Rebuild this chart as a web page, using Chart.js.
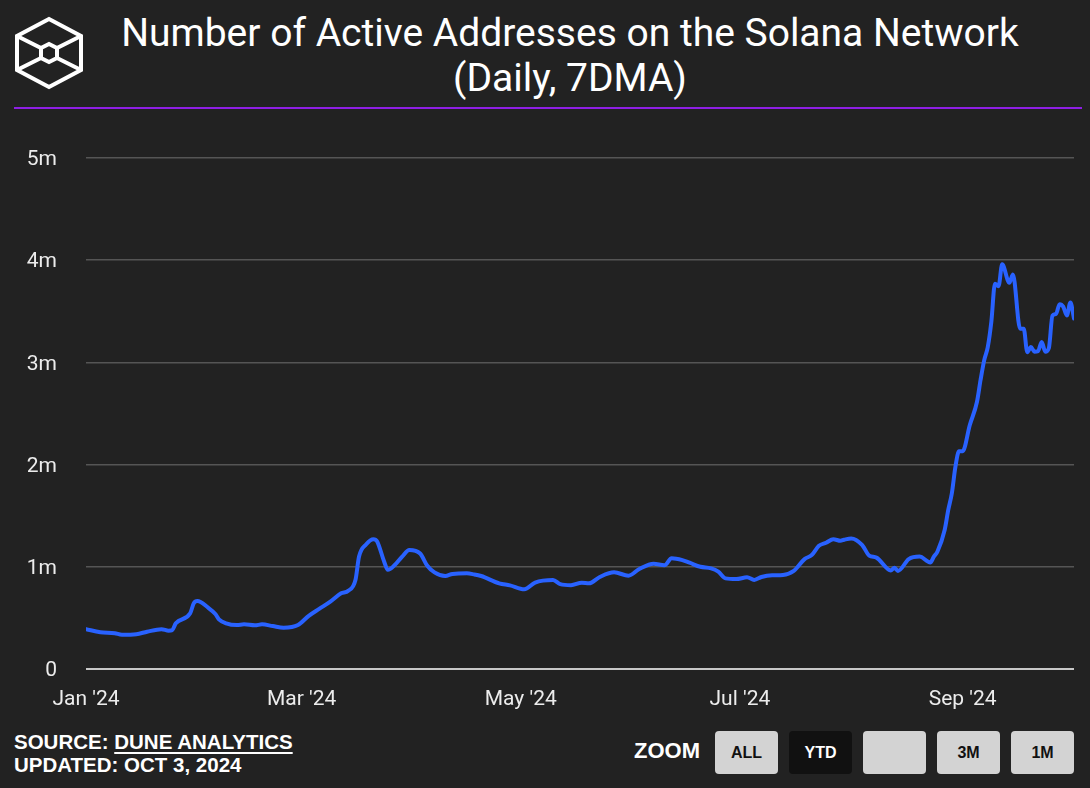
<!DOCTYPE html>
<html>
<head>
<meta charset="utf-8">
<script src="https://cdn.jsdelivr.net/npm/chart.js@4.4.1/dist/chart.umd.min.js"></script>
<style>
  html, body { margin:0; padding:0; background:#222222; }
  body { width:1090px; height:788px; position:relative; overflow:hidden; font-family: Roboto, "Liberation Sans", sans-serif; }
  #logo { position:absolute; left:12px; top:16px; width:74px; height:74px; }
  #title { position:absolute; top:11px; left:70px; width:1000px; text-align:center; color:#fff; font-family: Roboto, sans-serif; font-size:39px; line-height:45px; font-weight:400; }
  #rule { position:absolute; top:107px; left:14px; width:1068px; height:2px; background:#8e1fe4; }
  #wrap { position:absolute; top:110px; left:0; width:1090px; height:610px; }
  .foot { position:absolute; left:14px; color:#fff; font-family:"Liberation Sans", Arial, sans-serif; font-weight:700; font-size:20.5px; white-space:nowrap; }
  .foot u { text-decoration-thickness:2px; text-underline-offset:3px; }
  #zoomlbl { position:absolute; left:634px; top:738px; color:#fff; font-family:"Liberation Sans", Arial, sans-serif; font-weight:700; font-size:22px; }
  .btn { position:absolute; top:731px; width:63px; height:43px; border-radius:4px; background:#d3d3d3; color:#111; font-family:"Liberation Sans", Arial, sans-serif; font-weight:700; font-size:16px; display:flex; align-items:center; justify-content:center; }
  .btn.on { background:#111111; color:#fff; }
</style>
</head>
<body>
<svg id="logo" viewBox="0 0 74 74">
  <g fill="none" stroke="#fff" stroke-width="4" stroke-linejoin="miter">
    <path d="M37,3 L69,20 L69,54 L37,71 L5,54 L5,20 Z"/>
    <path d="M5,20 L29,32 L37,28 L45,32 L69,20"/>
    <path d="M29,32 L29,42 L37,46 L45,42 L45,32"/>
    <path d="M5,54 L29,42 M69,54 L45,42"/>
  </g>
</svg>
<div id="title">Number of Active Addresses on the Solana Network<br>(Daily, 7DMA)</div>
<div id="rule"></div>
<div id="wrap"><canvas id="c" width="1090" height="610"></canvas></div>
<div class="foot" style="top:730px;">SOURCE: <u>DUNE ANALYTICS</u></div>
<div class="foot" style="top:753px;">UPDATED: OCT 3, 2024</div>
<div id="zoomlbl">ZOOM</div>
<div class="btn" style="left:715px;">ALL</div>
<div class="btn on" style="left:789px;">YTD</div>
<div class="btn" style="left:863px;"></div>
<div class="btn" style="left:937px;">3M</div>
<div class="btn" style="left:1011px;">1M</div>
<script>
// ---- data (7-day moving average of daily active addresses) ----
const dates = [
  '2024-01-01','2024-01-05','2024-01-09','2024-01-11','2024-01-15','2024-01-18','2024-01-22','2024-01-24','2024-01-25','2024-01-26',
  '2024-01-30','2024-01-31','2024-02-01','2024-02-04','2024-02-06','2024-02-07','2024-02-09','2024-02-12','2024-02-14','2024-02-17',
  '2024-02-19','2024-02-22','2024-02-25','2024-02-29','2024-03-03','2024-03-06','2024-03-09','2024-03-12','2024-03-14','2024-03-16',
  '2024-03-17','2024-03-19','2024-03-21','2024-03-22','2024-03-24','2024-03-25','2024-03-27','2024-03-29','2024-03-31','2024-04-03',
  '2024-04-05','2024-04-07','2024-04-10','2024-04-12','2024-04-16','2024-04-18','2024-04-20','2024-04-25','2024-04-28','2024-05-02',
  '2024-05-05','2024-05-10','2024-05-12','2024-05-15','2024-05-18','2024-05-20','2024-05-23','2024-05-27','2024-05-31','2024-06-03',
  '2024-06-07','2024-06-10','2024-06-12','2024-06-15','2024-06-17','2024-06-20','2024-06-23','2024-06-25','2024-06-27','2024-06-30',
  '2024-07-03','2024-07-05','2024-07-07','2024-07-10','2024-07-13','2024-07-16','2024-07-19','2024-07-21','2024-07-23','2024-07-25',
  '2024-07-27','2024-07-29','2024-07-30','2024-08-01','2024-08-04','2024-08-06','2024-08-08','2024-08-12','2024-08-13','2024-08-14',
  '2024-08-17','2024-08-20','2024-08-23','2024-08-24','2024-08-25','2024-08-27','2024-08-28','2024-08-29','2024-08-30','2024-08-31',
  '2024-09-01','2024-09-03','2024-09-05','2024-09-06','2024-09-07','2024-09-08','2024-09-09','2024-09-10','2024-09-11','2024-09-12',
  '2024-09-14','2024-09-15','2024-09-17','2024-09-18','2024-09-19','2024-09-20','2024-09-21','2024-09-22','2024-09-23','2024-09-24',
  '2024-09-25','2024-09-26','2024-09-27','2024-09-28','2024-09-29','2024-09-30','2024-10-01','2024-10-02'
];
const activeAddresses = [
  390000,360000,350000,335000,340000,365000,390000,375000,380000,447000,
  545000,643000,665000,600000,538000,486000,447000,430000,437000,427000,
  437000,420000,404000,430000,520000,590000,660000,740000,765000,870000,
  1100000,1220000,1270000,1250000,1050000,970000,1020000,1100000,1165000,1130000,
  1010000,945000,910000,930000,936000,926000,910000,838000,818000,780000,
  845000,870000,830000,820000,845000,838000,900000,946000,913000,978000,
  1030000,1015000,1083000,1065000,1040000,1000000,985000,952000,887000,880000,
  897000,872000,900000,917000,920000,960000,1075000,1115000,1205000,1235000,
  1270000,1255000,1265000,1278000,1215000,1110000,1090000,965000,990000,960000,
  1075000,1100000,1043000,1100000,1150000,1360000,1556000,1720000,1980000,2130000,
  2130000,2387000,2615000,2830000,3020000,3150000,3400000,3770000,3745000,3960000,
  3780000,3860000,3330000,3330000,3100000,3150000,3105000,3110000,3200000,3105000,
  3140000,3457000,3474000,3570000,3546000,3460000,3585000,3430000
];
const xTickDates  = ['2024-01-01','2024-03-01','2024-05-01','2024-07-01','2024-09-01'];
const xTickLabels = ["Jan '24","Mar '24","May '24","Jul '24","Sep '24"];
const yTickValues = [0,1000000,2000000,3000000,4000000,5000000];
const yTickLabels = ['0','1m','2m','3m','4m','5m'];

// ---- helpers ----
const DAY = 86400000;
const t0 = Date.UTC(2024,0,1);
const dayIndex = s => { const [y,m,d] = s.split('-').map(Number); return Math.round((Date.UTC(y,m-1,d)-t0)/DAY); };
const points = dates.map((d,i) => ({x: dayIndex(d), y: activeAddresses[i]}));
const xTicks = xTickDates.map(dayIndex);
const lastDay = points[points.length-1].x;

const axisFont = {family:'Roboto, sans-serif', size:21, weight:'400'};

new Chart(document.getElementById('c').getContext('2d'), {
  type:'line',
  data:{ datasets:[{ data:points, borderColor:'#2962ff', borderWidth:4, pointRadius:0, fill:false,
                     cubicInterpolationMode:'monotone', borderJoinStyle:'round', borderCapStyle:'round' }] },
  options:{
    responsive:false, animation:false,
    layout:{ padding:{ top:48, right:16, left:0, bottom:0 } },
    plugins:{ legend:{display:false}, tooltip:{enabled:false} },
    scales:{
      x:{
        type:'linear', min:0, max:lastDay,
        grid:{ display:false, drawTicks:false }, border:{ display:false },
        afterBuildTicks: ax => { ax.ticks = xTicks.map(v => ({value:v})); },
        afterFit: ax => { ax.height = 51; },
        ticks:{ color:'#ececec', font:axisFont, padding:18, maxRotation:0, autoSkip:false,
                callback: v => { const i = xTicks.indexOf(v); return i >= 0 ? xTickLabels[i] : ''; } }
      },
      y:{
        min:0, max:5000000,
        afterBuildTicks: ax => { ax.ticks = yTickValues.map(v => ({value:v})); },
        afterFit: ax => { ax.width = 86; },
        grid:{ drawTicks:false,
               color: c => (c.tick && c.tick.value === 0) ? '#c8c8c8' : '#555555',
               lineWidth: c => (c.tick && c.tick.value === 0) ? 2 : 1.5 },
        border:{ display:false },
        ticks:{ color:'#ececec', font:axisFont, padding:29, labelOffset:2,
                callback: v => { const i = yTickValues.indexOf(v); return i >= 0 ? yTickLabels[i] : ''; } }
      }
    }
  }
});
</script>
</body>
</html>
